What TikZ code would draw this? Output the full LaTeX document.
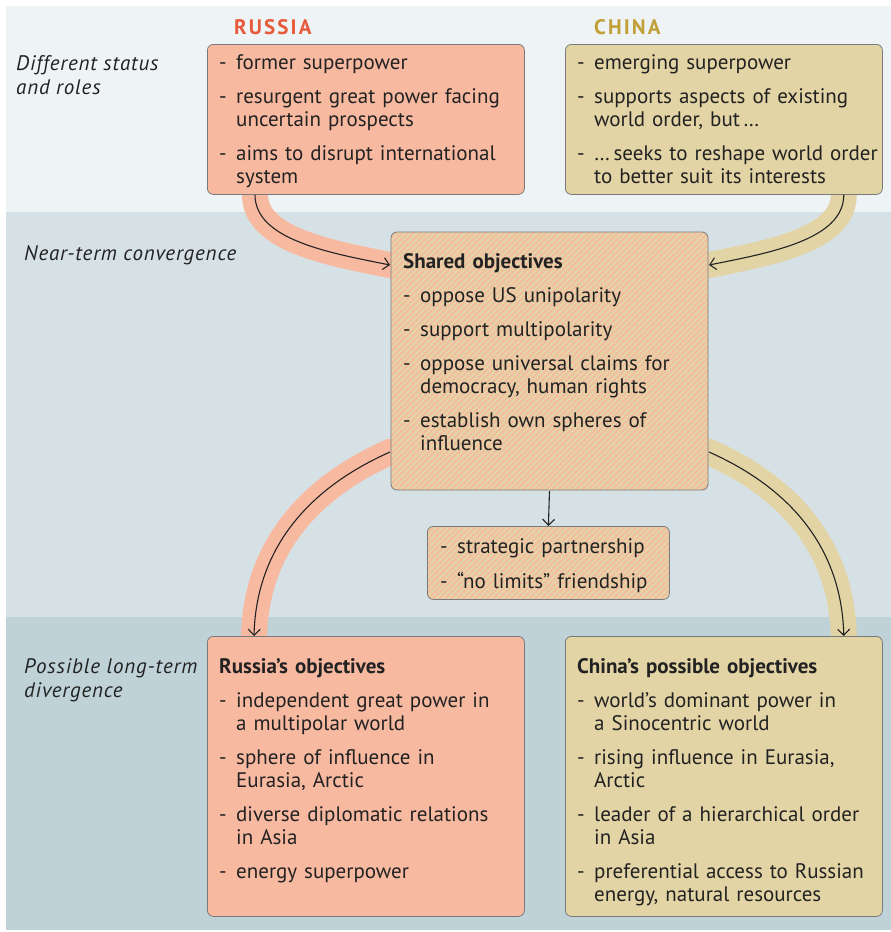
\documentclass[tikz,border=0pt]{standalone}
\usepackage{fontspec}
\setmainfont{PT Sans}
\usetikzlibrary{arrows.meta,patterns.meta}

\definecolor{ruFill}{HTML}{F8B9A1}
\definecolor{chFill}{HTML}{E3D4A6}
\definecolor{topBg}{HTML}{EEF3F6}
\definecolor{midBg}{HTML}{D6E1E6}
\definecolor{lowBg}{HTML}{BFD2D8}
\definecolor{ruHead}{HTML}{E85A3C}
\definecolor{chHead}{HTML}{C1A037}
\definecolor{ink}{HTML}{222222}
\definecolor{rim}{HTML}{7A7A7A}

\pgfdeclarelayer{bg}
\pgfdeclarelayer{band}
\pgfsetlayers{bg,band,main}

\newcommand{\itm}[1]{\noindent\hangindent=17pt\hangafter=1\hbox to 17pt{\strut-\hfil}#1\par}

\begin{document}
\begin{tikzpicture}[x=1pt,y=-1pt,
  box/.style={draw=rim,line width=0.8pt,rounded corners=6pt,anchor=north west,inner sep=0pt},
  mixbox/.style={box,preaction={fill=chFill},pattern={Lines[angle=45,distance=4pt,line width=2pt]},pattern color=ruFill},
  txt/.style={anchor=north west,inner sep=0pt,text width=310pt,align=left,text=ink,
    font=\fontsize{21}{23}\selectfont\setlength{\parskip}{11pt}},
  side/.style={anchor=north west,inner sep=0pt,align=left,text=ink,
    font=\fontsize{21}{24}\selectfont\itshape\addfontfeatures{LetterSpace=4}},
  head/.style={anchor=base west,inner sep=0pt,font=\fontsize{21}{23}\selectfont\bfseries\addfontfeatures{LetterSpace=10}},
  ruBand/.style={draw=ruFill,line width=26pt},
  chBand/.style={draw=chFill,line width=26pt},
  arr/.style={draw=ink,line width=1.1pt,-{Straight Barb[length=6pt,width=12pt]}}]
  \useasboundingbox (0,0) rectangle (891,932);

  \begin{pgfonlayer}{bg}
    \fill[white] (0,0) rectangle (891,932);
    \fill[topBg] (6,6) rectangle (891,212);
    \fill[midBg] (6,212) rectangle (891,617);
    \fill[lowBg] (6,617) rectangle (891,930);
  \end{pgfonlayer}

  \node[side] (lblStatus) at (16,55) {Different status\\and roles};
  \node[side] (lblNear) at (24,245) {Near-term convergence};
  \node[side] (lblLong) at (24,658) {Possible long-term\\divergence};

  \node[head,text=ruHead] (ruHd) at (234,34) {RUSSIA};
  \node[head,text=chHead] (chHd) at (594,34) {CHINA};

  \node[box,fill=ruFill,minimum width=317pt,minimum height=150pt] (ruTop) at (207,44) {};
  \node[box,fill=chFill,minimum width=317pt,minimum height=150pt] (chTop) at (565,44) {};
  \node[mixbox,minimum width=317pt,minimum height=258pt] (shared) at (390,231) {};
  \node[mixbox,minimum width=242pt,minimum height=73pt] (part) at (427,526) {};
  \node[box,fill=ruFill,minimum width=317pt,minimum height=280pt] (ruObj) at (207,636) {};
  \node[box,fill=chFill,minimum width=317pt,minimum height=280pt] (chObj) at (565,636) {};

  \node[txt] (ruTopTxt) at (219,53) {%
    \itm{former superpower}
    \itm{resurgent great power facing\newline uncertain prospects}
    \itm{aims to disrupt international\newline system}};
  \node[txt] (chTopTxt) at (577,53) {%
    \itm{emerging superpower}
    \itm{supports aspects of existing\newline world order, but\,…}
    \itm{…\,seeks to reshape world order\newline to better suit its interests}};
  \node[txt] (sharedTxt) at (403,252) {\strut\textbf{Shared objectives}\par
    \itm{oppose US unipolarity}
    \itm{support multipolarity}
    \itm{oppose universal claims for\newline democracy, human rights}
    \itm{establish own spheres of\newline influence}};
  \node[txt] (partTxt) at (440,537) {%
    \itm{strategic partnership}
    \itm{“no limits” friendship}};
  \node[txt] (ruObjTxt) at (219,657) {\strut\textbf{Russia’s objectives}\par
    \itm{independent great power in\newline a multipolar world}
    \itm{sphere of influence in\newline Eurasia, Arctic}
    \itm{diverse diplomatic relations\newline in Asia}
    \itm{energy superpower}};
  \node[txt] (chObjTxt) at (577,657) {\strut\textbf{China’s possible objectives}\par
    \itm{world’s dominant power in\newline a Sinocentric world}
    \itm{rising influence in Eurasia,\newline Arctic}
    \itm{leader of a hierarchical order\newline in Asia}
    \itm{preferential access to Russian\newline energy, natural resources}};

  \coordinate (ruOut) at ([xshift=48pt]ruTop.south west);
  \coordinate (chOut) at ([xshift=-39pt]chTop.south east);
  \coordinate (shInL) at ([yshift=-34pt]shared.north west);
  \coordinate (shInR) at ([yshift=-34pt]shared.north east);
  \coordinate (shOutL) at ([yshift=39pt]shared.south west);
  \coordinate (shOutR) at ([yshift=39pt]shared.south east);
  \coordinate (ruIn) at ([xshift=47pt]ruObj.north west);
  \coordinate (chIn) at ([xshift=-39pt]chObj.north east);

  \begin{pgfonlayer}{band}
    \draw[ruBand] (ruOut) ++(0,-10) -- (ruOut) .. controls +(0,45) and +(-60,-12) .. (shInL) -- ++(10,0);
    \draw[chBand] (chOut) ++(0,-10) -- (chOut) .. controls +(0,45) and +(60,-12) .. (shInR) -- ++(-10,0);
    \draw[ruBand] (shOutL) ++(10,0) -- (shOutL) .. controls +(-90,40) and +(2,-80) .. (ruIn) -- ++(0,10);
    \draw[chBand] (shOutR) ++(-10,0) -- (shOutR) .. controls +(90,40) and +(-2,-80) .. (chIn) -- ++(0,10);
  \end{pgfonlayer}

  \draw[arr] (ruOut) .. controls +(0,45) and +(-60,-12) .. (shInL);
  \draw[arr] (chOut) .. controls +(0,45) and +(60,-12) .. (shInR);
  \draw[arr] (shOutL) .. controls +(-90,40) and +(2,-80) .. (ruIn);
  \draw[arr] (shOutR) .. controls +(90,40) and +(-2,-80) .. (chIn);
  \draw[arr] (shared.south) -- (part.north);
\end{tikzpicture}
\end{document}
